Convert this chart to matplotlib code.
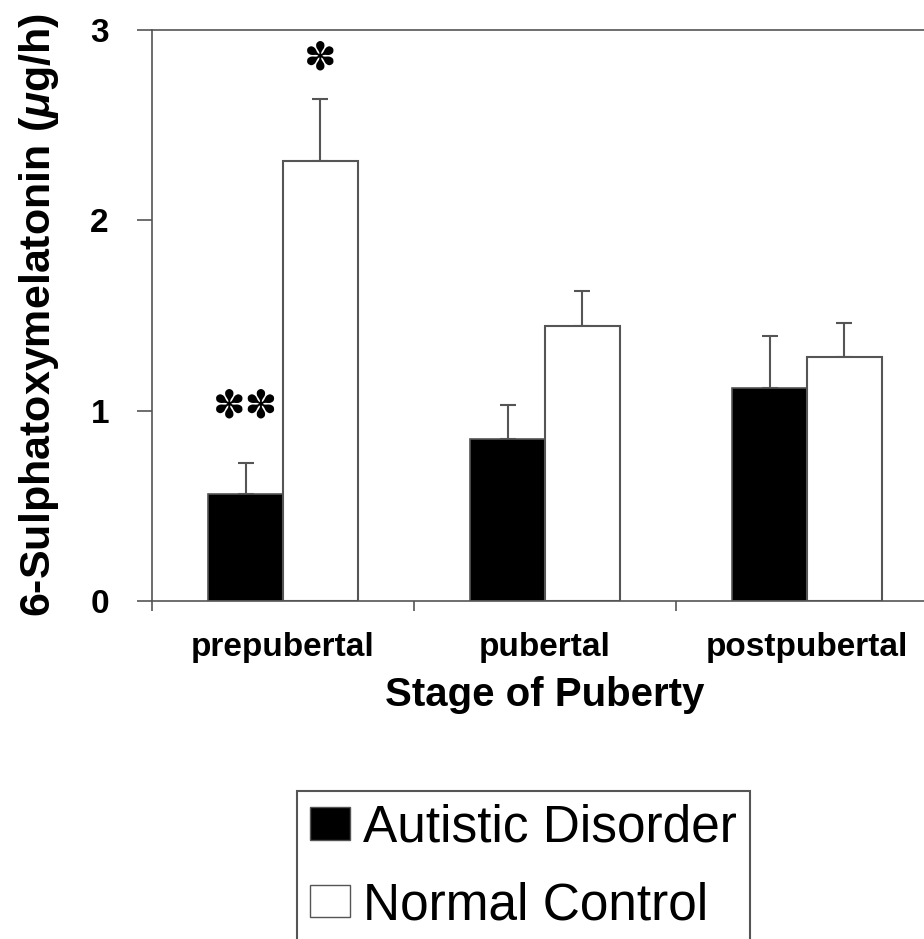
import numpy as np
import matplotlib.pyplot as plt
from matplotlib.patches import Patch

plt.rcParams['font.family'] = ['Liberation Sans', 'DejaVu Sans']
plt.rcParams['mathtext.fontset'] = 'custom'
plt.rcParams['mathtext.it'] = 'Liberation Sans:italic:bold'
plt.rcParams['mathtext.rm'] = 'Liberation Sans:bold'

stages = ['prepubertal', 'pubertal', 'postpubertal']
autistic = [0.56, 0.85, 1.12]
autistic_err = [0.165, 0.18, 0.27]
control = [2.31, 1.445, 1.28]
control_err = [0.33, 0.185, 0.18]
# significance marks: (text, stage index, group, y position)
star_labels = [('\u273d\u273d', 0, 'autistic', 1.02), ('\u273d', 0, 'control', 2.85)]

gray = '#555555'
fig = plt.figure(figsize=(9.24, 9.39), dpi=100)
ax = fig.add_axes([152/924, 338/939, 786/924, 571/939])

x = np.arange(len(stages)) + 0.5
w = 0.286
ax.bar(x - w/2, autistic, w, color='black', edgecolor=gray, linewidth=1.2, zorder=2)
ax.bar(x + w/2, control, w, color='white', edgecolor=gray, linewidth=1.5, zorder=2)
ax.errorbar(x - w/2, autistic, yerr=[np.zeros(3), autistic_err], fmt='none',
            ecolor=gray, elinewidth=1.5, capsize=6, capthick=1.5, zorder=1)
ax.errorbar(x + w/2, control, yerr=[np.zeros(3), control_err], fmt='none',
            ecolor=gray, elinewidth=1.5, capsize=6, capthick=1.5, zorder=1)

for txt, i, grp, yy in star_labels:
    xx = x[i] - w/2 if grp == 'autistic' else x[i] + w/2
    ax.text(xx, yy, txt, ha='center', va='center', fontsize=28,
            family=['DejaVu Sans'])

ax.set_xlim(0, 3)
ax.set_ylim(0, 3)
ax.set_yticks([0, 1, 2, 3])
ax.set_yticklabels(['0', '1', '2', '3'], fontsize=24, fontweight='bold')
ax.set_xticks([0, 1, 2, 3])
ax.set_xticklabels([])
ax.set_xticks(x, minor=True)
ax.set_xticklabels(stages, minor=True, fontsize=24, fontweight='bold')
ax.tick_params(axis='x', which='minor', length=0, pad=22)
ax.tick_params(axis='x', which='major', direction='out', length=7, width=1.2, color=gray)
ax.tick_params(axis='y', direction='out', length=11, width=1.2, color=gray, pad=20)

for s in ['left', 'bottom', 'top']:
    ax.spines[s].set_color(gray)
    ax.spines[s].set_linewidth(1.2)
ax.spines['right'].set_visible(False)

ax.set_xlabel('Stage of Puberty', fontsize=29, fontweight='bold', labelpad=10)
ax.set_ylabel('6-Sulphatoxymelatonin ($\\mu$g/h)', fontsize=31, fontweight='bold', labelpad=21)

handles = [Patch(facecolor='black', edgecolor=gray), Patch(facecolor='white', edgecolor=gray)]
leg = fig.legend(handles, ['Autistic Disorder', 'Normal Control'], loc='upper left',
                 bbox_to_anchor=(297/924, 1 - 791/939), fontsize=37, frameon=True,
                 fancybox=False, framealpha=1, edgecolor=gray, borderaxespad=0,
                 handlelength=0.78, handleheight=0.6, handletextpad=0.25,
                 labelspacing=0.55, borderpad=0.25)
leg.get_frame().set_linewidth(1.5)

fig.savefig('out.png', dpi=100)
